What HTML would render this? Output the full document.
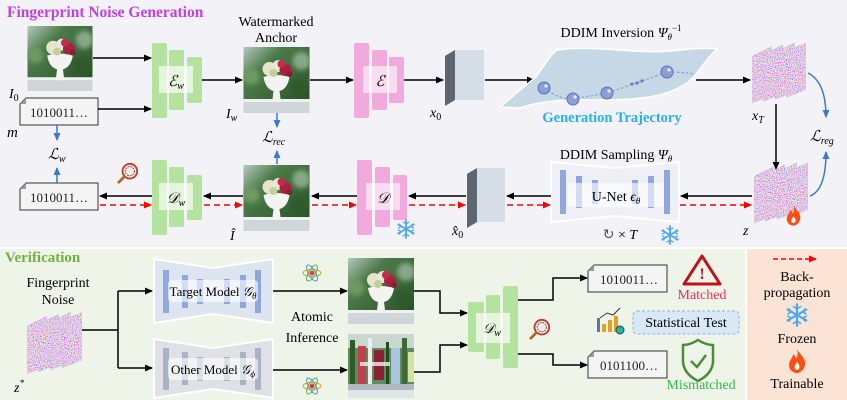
<!DOCTYPE html>
<html><head><meta charset="utf-8"><style>
html,body{margin:0;padding:0;background:#fff;}
svg{display:block;font-family:"Liberation Serif",serif;}
</style></head><body>
<svg width="847" height="400" viewBox="0 0 847 400" xmlns="http://www.w3.org/2000/svg">
<defs>
<marker id="ab" markerWidth="8" markerHeight="8" refX="7" refY="4" orient="auto" markerUnits="userSpaceOnUse"><path d="M0,0.5 L8,4 L0,7.5 z" fill="#000"/></marker>
<marker id="ar" markerWidth="8" markerHeight="8" refX="7" refY="4" orient="auto" markerUnits="userSpaceOnUse"><path d="M0,0.5 L8,4 L0,7.5 z" fill="#f00"/></marker>
<marker id="abl" markerWidth="8" markerHeight="8" refX="7" refY="4" orient="auto" markerUnits="userSpaceOnUse"><path d="M0,0.5 L8,4 L0,7.5 z" fill="#3b78d0"/></marker>
<filter id="nz" x="0" y="0" width="1" height="1"><feTurbulence type="fractalNoise" baseFrequency="0.95" numOctaves="1" seed="4"/><feColorMatrix type="matrix" values="2.2 0 0 0 -0.35  0 2.2 0 0 -0.55  0 0 2.2 0 -0.3  0 0 0 0 1"/></filter>
<filter id="bl" x="-0.1" y="-0.1" width="1.2" height="1.2"><feGaussianBlur stdDeviation="2.5"/></filter>
<linearGradient id="bg" x1="0" y1="0" x2="1" y2="1"><stop offset="0" stop-color="#b5c9bb"/><stop offset="0.3" stop-color="#4c7a4a"/><stop offset="1" stop-color="#244c22"/></linearGradient>
<symbol id="img" viewBox="0 0 66 66">
<rect width="66" height="66" fill="url(#bg)"/>
<g filter="url(#bl)"><circle cx="8" cy="30" r="8" fill="#6f9a62"/><circle cx="58" cy="14" r="9" fill="#87a886"/><circle cx="54" cy="40" r="8" fill="#2d5a2a"/></g>
<rect x="0" y="54" width="66" height="12" fill="#cfd5d8"/>
<rect x="0" y="52" width="66" height="3" fill="#eef0f1"/>
<path d="M20,30 Q33,26 46,30 Q44,42 36,44 L37,52 L40,55 L26,55 L29,52 L30,44 Q22,42 20,30z" fill="#f3f3f1"/>
<circle cx="26" cy="22" r="7" fill="#e7e4cc"/><circle cx="35" cy="19" r="6" fill="#e9e6da"/>
<circle cx="42" cy="23" r="6" fill="#a8223d"/><circle cx="38" cy="17" r="4" fill="#c42c4c"/>
<circle cx="30" cy="26" r="4" fill="#c3cf9c"/><circle cx="46" cy="27" r="3" fill="#8a1e33"/>
</symbol>
<symbol id="stack" viewBox="0 0 56 62">
<g stroke="#b8c4d8" stroke-width="0.8">
<polygon points="0,14 20,4 20,54 0,62" fill="#fff"/>
<polygon points="12,12 32,2 32,52 12,60" fill="#fff"/>
<polygon points="24,10 44,0 44,50 24,58" fill="#fff"/>
<polygon points="36,8 56,0 56,48 36,56" fill="#fff"/>
</g>
<clipPath id="sc"><polygon points="0,14 20,4 20,54 0,62"/><polygon points="12,12 32,2 32,52 12,60"/><polygon points="24,10 44,0 44,50 24,58"/><polygon points="36,8 56,0 56,48 36,56"/></clipPath>
<rect width="56" height="62" filter="url(#nz)" clip-path="url(#sc)" opacity="0.9"/>
</symbol>
<symbol id="snow" viewBox="-10 -10 20 20"><g stroke="#4aa8f0" stroke-width="1.8" stroke-linecap="round"><path d="M0,-9V9M-7.8,-4.5L7.8,4.5M-7.8,4.5L7.8,-4.5"/><path d="M-3,-7L0,-5L3,-7M-3,7L0,5L3,7M-7.5,-1L-5,-2.5L-6.5,-5M7.5,1L5,2.5L6.5,5M-7.5,1L-5,2.5L-6.5,5M7.5,-1L5,-2.5L6.5,-5" fill="none" stroke-width="1.3"/></g></symbol>
<symbol id="flame" viewBox="0 0 20 24"><path d="M10,0 C13,6 19,9 18,16 C17,21 13,24 10,24 C6,24 2,21 2,16 C2,11 6,9 6,5 C8,7 9,8 9,10 C11,7 11,4 10,0z" fill="#ff4e12"/><path d="M10,13 C12,15 13,17 12,20 C11,21 9,21 8,20 C7,18 8,16 10,13z" fill="#fff"/></symbol>
<symbol id="mag" viewBox="0 0 24 24"><circle cx="14" cy="10" r="8" fill="#f4e9e9" stroke="#c0392b" stroke-width="2"/><circle cx="14" cy="10" r="5" fill="none" stroke="#555" stroke-width="1" stroke-dasharray="2 1"/><path d="M8,16 L2,22" stroke="#b5651d" stroke-width="3" stroke-linecap="round"/></symbol>
<symbol id="atom" viewBox="-10 -10 20 20"><g fill="none" stroke-width="1"><ellipse rx="9" ry="3.5" stroke="#e0a020"/><ellipse rx="9" ry="3.5" stroke="#3a9ad9" transform="rotate(60)"/><ellipse rx="9" ry="3.5" stroke="#55b055" transform="rotate(-60)"/></g><circle r="2.5" fill="#e53935"/></symbol>
</defs>

<rect x="0" y="0" width="847" height="247" fill="#f3f2f7"/>
<rect x="0" y="249" width="745" height="151" fill="#eef4e7"/>
<rect x="747" y="249" width="100" height="151" fill="#fbe3d6"/>

<text x="7" y="17" font-size="15.5" font-weight="bold" fill="#c23fe0">Fingerprint Noise Generation</text>

<use href="#img" x="27" y="26" width="66" height="65"/>
<text x="9" y="98" font-size="14" font-style="italic">I<tspan font-size="10" dy="3" font-style="normal">0</tspan></text>
<path d="M93,58 H151" stroke="#000" stroke-width="1.5" marker-end="url(#ab)"/>
<path d="M26,98 H98 V125 H20 V104 Z" fill="#f4f4f4" stroke="#333" stroke-width="1"/><path d="M20,104 L26,98 L26,104 Z" fill="#999"/>
<text x="59" y="117" font-size="13" text-anchor="middle" fill="#222">1010011…</text>
<text x="7" y="137" font-size="15" font-style="italic">m</text>
<path d="M98,109 H151" stroke="#000" stroke-width="1.5" marker-end="url(#ab)"/>
<g fill="#b4e3a0"><rect x="152" y="43" width="15" height="75" rx="2"/><rect x="169" y="50" width="15" height="60" rx="2"/><rect x="187" y="57" width="15" height="46" rx="2"/></g>
<rect x="159" y="66" width="34" height="27" fill="#fff" opacity="0.65"/>
<text x="176" y="86" font-size="15" font-style="italic" text-anchor="middle">ℰ<tspan font-size="10" dy="3">w</tspan></text>
<path d="M202,80 H242" stroke="#000" stroke-width="1.5" marker-end="url(#ab)"/>
<text x="276" y="26" font-size="14" text-anchor="middle">Watermarked</text>
<text x="276" y="42" font-size="14" text-anchor="middle">Anchor</text>
<use href="#img" x="243" y="47" width="67" height="66"/>
<text x="226" y="118" font-size="14" font-style="italic">I<tspan font-size="10" dy="3">w</tspan></text>
<path d="M277,113 V127" stroke="#3b78d0" stroke-width="1.5" marker-end="url(#abl)"/>
<text x="262" y="142" font-size="15" font-style="italic">ℒ<tspan font-size="10" dy="3">rec</tspan></text>
<path d="M277,164 V151" stroke="#3b78d0" stroke-width="1.5" marker-end="url(#abl)"/>
<path d="M310,80 H353" stroke="#000" stroke-width="1.5" marker-end="url(#ab)"/>
<g fill="#f2a9dc"><rect x="354" y="43" width="15" height="75" rx="2"/><rect x="372" y="50" width="15" height="60" rx="2"/><rect x="389" y="57" width="15" height="46" rx="2"/></g>
<rect x="363" y="66" width="34" height="27" fill="#fff" opacity="0.6"/>
<text x="380" y="86" font-size="15" font-style="italic" text-anchor="middle">ℰ</text>
<path d="M404,80 H443" stroke="#000" stroke-width="1.5" marker-end="url(#ab)"/>
<polygon points="445,56 455,50 484,50 474,56" fill="#9aa3ad"/>
<polygon points="445,56 455,50 455,100 445,106" fill="#5d6670"/>
<rect x="455" y="50" width="29" height="50" fill="#d5dde6"/>
<text x="430" y="117" font-size="14" font-style="italic">x<tspan font-size="10" dy="3" font-style="normal">0</tspan></text>
<path d="M485,80 H534" stroke="#000" stroke-width="1.5" marker-end="url(#ab)"/>
<text x="621" y="37" font-size="14" text-anchor="middle">DDIM Inversion <tspan font-style="italic">Ψ</tspan><tspan font-size="9" dy="3" font-style="italic">θ</tspan><tspan font-size="9" dy="-9">−1</tspan></text>
<path d="M557,50 C600,44 640,56 680,50 C700,48 710,48 717,49 C705,60 700,70 693,78 C680,90 665,94 650,97 C600,104 560,94 520,108 L500,107 C515,95 525,85 535,78 C545,65 550,55 557,50z" fill="#c6d7e5" stroke="#fff" stroke-width="1.5"/>
<path d="M544,88 Q560,100 573,99 Q590,96 607,93 Q640,82 667,72 Q685,72 693,74" fill="none" stroke="#8aa8cf" stroke-width="1.3" stroke-dasharray="2.5 2"/>
<g fill="#8a9fd6" stroke="#5e72b8" stroke-width="1"><circle cx="544" cy="88" r="6"/><circle cx="573" cy="99" r="6"/><circle cx="607" cy="93" r="6"/><circle cx="667" cy="72" r="6"/></g>
<g fill="#fff" opacity="0.8"><circle cx="546" cy="86" r="1.6"/><circle cx="575" cy="97" r="1.6"/><circle cx="609" cy="91" r="1.6"/><circle cx="669" cy="70" r="1.6"/></g>
<g fill="#6a80c0"><circle cx="632" cy="84" r="1.6"/><circle cx="637" cy="83" r="1.6"/><circle cx="642" cy="81" r="1.6"/></g>
<text x="612" y="122" font-size="14.5" font-weight="bold" fill="#2aaef0" text-anchor="middle">Generation Trajectory</text>
<path d="M696,80 H750" stroke="#000" stroke-width="1.5" marker-end="url(#ab)"/>
<use href="#stack" x="752" y="42" width="54" height="62"/>
<text x="752" y="120" font-size="14" font-style="italic">x<tspan font-size="10" dy="3">T</tspan></text>
<path d="M776,104 V169" stroke="#000" stroke-width="1.5" marker-end="url(#ab)"/>
<path d="M808,73 Q826,82 826,117" fill="none" stroke="#3b78d0" stroke-width="1.5" marker-end="url(#abl)"/>
<text x="810" y="141" font-size="15" font-style="italic">ℒ<tspan font-size="10" dy="3">reg</tspan></text>
<path d="M810,196 Q826,190 826,152" fill="none" stroke="#3b78d0" stroke-width="1.5" marker-end="url(#abl)"/>
<use href="#stack" x="754" y="162" width="54" height="62"/>
<use href="#flame" x="785" y="205" width="17" height="21"/>
<text x="743" y="235" font-size="14" font-style="italic">z</text>

<path d="M752,196 H681" stroke="#000" stroke-width="1.5" marker-end="url(#ab)"/>
<path d="M680,205 H751" stroke="#f00" stroke-width="1.5" stroke-dasharray="6 4" marker-end="url(#ar)"/>
<text x="616" y="159" font-size="14" text-anchor="middle">DDIM Sampling <tspan font-style="italic">Ψ</tspan><tspan font-size="9" dy="3" font-style="italic">θ</tspan></text>
<polygon points="551,162 615,168 679,162 679,222 615,216 551,222" fill="#eef0f6" stroke="#fff" stroke-width="2"/>
<g fill="#8fa7de"><rect x="560" y="170" width="6" height="44"/><rect x="576" y="176" width="6" height="32"/><rect x="592" y="180" width="6" height="24"/><rect x="632" y="180" width="6" height="24"/><rect x="648" y="176" width="6" height="32"/><rect x="664" y="170" width="6" height="44"/></g>
<rect x="568" y="183" width="96" height="24" rx="4" fill="#fff" opacity="0.6"/>
<text x="616" y="201" font-size="14" text-anchor="middle">U-Net <tspan font-style="italic">ϵ</tspan><tspan font-size="9" dy="3" font-style="italic">θ</tspan></text>
<text x="620" y="239" font-size="14" text-anchor="middle"><tspan fill="#555">↻</tspan> × <tspan font-style="italic">T</tspan></text>
<use href="#snow" x="660" y="225" width="20" height="20"/>
<path d="M551,196 H507" stroke="#000" stroke-width="1.5" marker-end="url(#ab)"/>
<path d="M507,205 H550" stroke="#f00" stroke-width="1.5" stroke-dasharray="6 4" marker-end="url(#ar)"/>
<polygon points="467,174 477,168 505,168 495,174" fill="#9aa3ad"/>
<polygon points="467,174 477,168 477,222 467,228" fill="#5d6670"/>
<rect x="477" y="168" width="28" height="54" fill="#d5dde6"/>
<text x="452" y="235" font-size="14" font-style="italic">x̂<tspan font-size="10" dy="3" font-style="normal">0</tspan></text>
<path d="M466,196 H409" stroke="#000" stroke-width="1.5" marker-end="url(#ab)"/>
<path d="M409,205 H465" stroke="#f00" stroke-width="1.5" stroke-dasharray="6 4" marker-end="url(#ar)"/>
<g fill="#f2a9dc"><rect x="357" y="160" width="15" height="75" rx="2"/><rect x="375" y="167" width="15" height="60" rx="2"/><rect x="393" y="175" width="14" height="45" rx="2"/></g>
<rect x="366" y="183" width="34" height="27" fill="#fff" opacity="0.6"/>
<text x="383" y="203" font-size="15" font-style="italic" text-anchor="middle">𝒟</text>
<use href="#snow" x="396" y="219" width="20" height="20"/>
<path d="M357,196 H312" stroke="#000" stroke-width="1.5" marker-end="url(#ab)"/>
<path d="M312,205 H356" stroke="#f00" stroke-width="1.5" stroke-dasharray="6 4" marker-end="url(#ar)"/>
<use href="#img" x="243" y="165" width="67" height="66"/>
<text x="230" y="240" font-size="14" font-style="italic">Î</text>
<path d="M243,196 H204" stroke="#000" stroke-width="1.5" marker-end="url(#ab)"/>
<path d="M204,205 H242" stroke="#f00" stroke-width="1.5" stroke-dasharray="6 4" marker-end="url(#ar)"/>
<g fill="#b4e3a0"><rect x="152" y="160" width="15" height="75" rx="2"/><rect x="169" y="167" width="15" height="60" rx="2"/><rect x="187" y="175" width="15" height="45" rx="2"/></g>
<rect x="159" y="183" width="34" height="27" fill="#fff" opacity="0.65"/>
<text x="176" y="203" font-size="15" font-style="italic" text-anchor="middle">𝒟<tspan font-size="10" dy="3">w</tspan></text>
<use href="#mag" x="117" y="162" width="22" height="22"/>
<path d="M152,196 H100" stroke="#000" stroke-width="1.5" marker-end="url(#ab)"/>
<path d="M100,205 H151" stroke="#f00" stroke-width="1.5" stroke-dasharray="6 4" marker-end="url(#ar)"/>
<path d="M26,183 H98 V210 H20 V189 Z" fill="#f4f4f4" stroke="#333" stroke-width="1"/><path d="M20,189 L26,183 L26,189 Z" fill="#999"/>
<text x="59" y="202" font-size="13" text-anchor="middle" fill="#222">1010011…</text>
<path d="M57,125 V140" stroke="#3b78d0" stroke-width="1.5" marker-end="url(#abl)"/>
<text x="48" y="159" font-size="15" font-style="italic">ℒ<tspan font-size="10" dy="3">w</tspan></text>
<path d="M57,183 V168" stroke="#3b78d0" stroke-width="1.5" marker-end="url(#abl)"/>

<text x="5" y="262" font-size="15" font-weight="bold" fill="#72b043">Verification</text>
<text x="58" y="287" font-size="14" text-anchor="middle">Fingerprint</text>
<text x="58" y="304" font-size="14" text-anchor="middle">Noise</text>
<use href="#stack" x="27" y="309" width="55" height="68"/>
<text x="14" y="392" font-size="14" font-style="italic">z<tspan font-size="9" dy="-6">*</tspan></text>
<path d="M82,330 H118 M118,291 V368" stroke="#000" stroke-width="1.5" fill="none"/>
<path d="M118,291 H152" stroke="#000" stroke-width="1.5" marker-end="url(#ab)"/>
<path d="M118,368 H152" stroke="#000" stroke-width="1.5" marker-end="url(#ab)"/>
<polygon points="154,259 213,268 273,259 273,323 213,314 154,323" fill="#dde6f0" stroke="#fff" stroke-width="2"/>
<g fill="#8fa7de"><rect x="163" y="270" width="6" height="43"/><rect x="182" y="275" width="6" height="33"/><rect x="197" y="279" width="6" height="25"/><rect x="224" y="279" width="6" height="25"/><rect x="240" y="275" width="6" height="33"/><rect x="255" y="270" width="6" height="43"/></g>
<rect x="168" y="280" width="90" height="22" rx="4" fill="#fff" opacity="0.6"/>
<text x="213" y="296" font-size="13" text-anchor="middle">Target Model <tspan font-style="italic">𝒢</tspan><tspan font-size="9" dy="3" font-style="italic">θ</tspan></text>
<polygon points="154,339 213,348 273,339 273,398 213,389 154,398" fill="#dfe1e6" stroke="#fff" stroke-width="2"/>
<g fill="#a9b3c4"><rect x="163" y="348" width="6" height="42"/><rect x="182" y="352" width="6" height="33"/><rect x="197" y="357" width="6" height="24"/><rect x="224" y="357" width="6" height="24"/><rect x="240" y="352" width="6" height="33"/><rect x="255" y="348" width="6" height="42"/></g>
<rect x="168" y="358" width="90" height="22" rx="4" fill="#fff" opacity="0.6"/>
<text x="213" y="374" font-size="13" text-anchor="middle">Other Model <tspan font-style="italic">𝒢</tspan><tspan font-size="9" dy="3" font-style="italic">ϕ</tspan></text>
<use href="#atom" x="302" y="263" width="20" height="20"/>
<use href="#atom" x="302" y="376" width="20" height="20"/>
<text x="312" y="321" font-size="14" text-anchor="middle">Atomic</text>
<text x="312" y="342" font-size="14" text-anchor="middle">Inference</text>
<path d="M273,291 H347" stroke="#000" stroke-width="1.5" marker-end="url(#ab)"/>
<path d="M273,370 H347" stroke="#000" stroke-width="1.5" marker-end="url(#ab)"/>
<use href="#img" x="348" y="255" width="66" height="72" preserveAspectRatio="none"/>
<!-- glitch image -->
<g>
<rect x="348" y="334" width="66" height="64" fill="#5f8a5a"/>
<rect x="348" y="334" width="66" height="14" fill="#c8d8d0"/>
<rect x="350" y="340" width="5" height="50" fill="#2e5a2a"/>
<rect x="358" y="346" width="8" height="40" fill="#c04050"/>
<rect x="368" y="338" width="4" height="55" fill="#e8eef0"/>
<rect x="374" y="350" width="10" height="30" fill="#8a2233"/>
<rect x="386" y="342" width="3" height="50" fill="#244c22"/>
<rect x="391" y="348" width="9" height="36" fill="#a8c4e0"/>
<rect x="402" y="338" width="5" height="52" fill="#3e6a3a"/>
<rect x="408" y="352" width="6" height="30" fill="#d8e0a0"/>
<rect x="348" y="384" width="66" height="6" fill="#b0b8c0"/>
<rect x="348" y="390" width="66" height="8" fill="#dfe4e6"/>
<rect x="360" y="362" width="30" height="4" fill="#f0f0f0" opacity="0.8"/>
</g>
<path d="M414,291 H440 V313 H467" fill="none" stroke="#000" stroke-width="1.5" marker-end="url(#ab)"/>
<path d="M414,372 H440 V345 H467" fill="none" stroke="#000" stroke-width="1.5" marker-end="url(#ab)"/>
<g fill="#b4e3a0"><rect x="468" y="302" width="16" height="50" rx="2"/><rect x="486" y="295" width="14" height="64" rx="2"/><rect x="503" y="286" width="15" height="82" rx="2"/></g>
<rect x="476" y="313" width="34" height="30" fill="#fff" opacity="0.65"/>
<text x="492" y="333" font-size="14" font-style="italic" text-anchor="middle">𝒟<tspan font-size="10" dy="3">w</tspan></text>
<use href="#mag" x="529" y="318" width="22" height="22"/>
<path d="M518,300 H553 V278 H587" fill="none" stroke="#000" stroke-width="1.5" marker-end="url(#ab)"/>
<path d="M518,354 H553 V365 H587" fill="none" stroke="#000" stroke-width="1.5" marker-end="url(#ab)"/>
<path d="M594,265 H667 V292 H588 V271 Z" fill="#f4f4f4" stroke="#333" stroke-width="1"/><path d="M588,271 L594,265 L594,271 Z" fill="#999"/>
<text x="629" y="284" font-size="13" text-anchor="middle" fill="#222">1010011…</text>
<path d="M594,351 H667 V378 H588 V357 Z" fill="#f4f4f4" stroke="#333" stroke-width="1"/><path d="M588,357 L594,351 L594,357 Z" fill="#999"/>
<text x="629" y="370" font-size="13" text-anchor="middle" fill="#222">0101100…</text>
<path d="M702,256 L720,284 H684 Z" fill="none" stroke="#c0101a" stroke-width="3" stroke-linejoin="round"/>
<text x="702" y="279" font-size="16" font-weight="bold" fill="#c0101a" text-anchor="middle">!</text>
<text x="702" y="299" font-size="14" fill="#e8305a" text-anchor="middle">Matched</text>
<g><rect x="597" y="318" width="3" height="14" fill="#5577aa"/><rect x="602" y="324" width="4" height="8" fill="#e0a020"/><rect x="608" y="320" width="4" height="12" fill="#e0a020"/><rect x="614" y="316" width="4" height="16" fill="#e0a020"/><path d="M600,318 L607,313 L613,315 L620,308" stroke="#333" fill="none" stroke-width="1"/><circle cx="620" cy="330" r="4" fill="#2ab0a0" stroke="#246" stroke-width="1"/></g>
<rect x="633" y="311" width="106" height="23" rx="4" fill="#d9e8f6" stroke="#8ab4e0" stroke-dasharray="3 2"/>
<text x="686" y="327" font-size="14" text-anchor="middle">Statistical Test</text>
<path d="M698,340 Q706,345 713,345 V362 Q712,374 698,381 Q684,374 683,362 V345 Q690,345 698,340 Z" fill="none" stroke="#4e8a3a" stroke-width="2.5"/>
<path d="M691,361 L697,367 L706,355" fill="none" stroke="#4e8a3a" stroke-width="2.5"/>
<text x="701" y="389" font-size="14" fill="#2fb850" text-anchor="middle">Mismatched</text>
<path d="M773,259 H816" stroke="#f00" stroke-width="1.5" stroke-dasharray="5 3" marker-end="url(#ar)"/>
<text x="797" y="281" font-size="14" text-anchor="middle">Back-</text>
<text x="797" y="297" font-size="14" text-anchor="middle">propagation</text>
<use href="#snow" x="785" y="303" width="24" height="24"/>
<text x="797" y="343" font-size="14" text-anchor="middle">Frozen</text>
<use href="#flame" x="787" y="349" width="20" height="24"/>
<text x="797" y="388" font-size="14" text-anchor="middle">Trainable</text>
</svg>
</body></html>
